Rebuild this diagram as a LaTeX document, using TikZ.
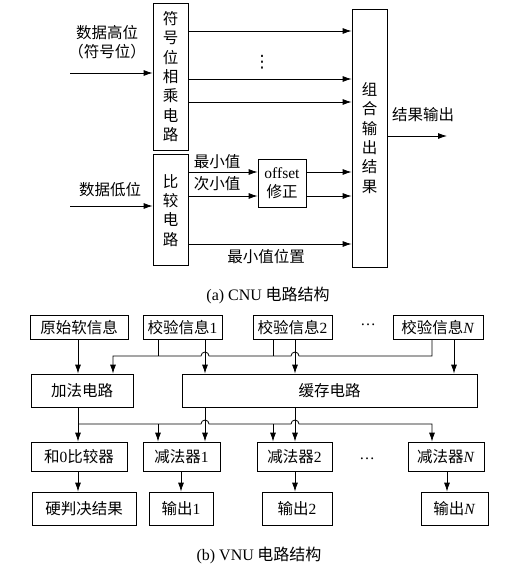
\documentclass[tikz,border=0pt]{standalone}
\usepackage{fontspec}
\setmainfont{Liberation Serif}
\newfontfamily\zh{Noto Sans CJK SC}
\newfontfamily\symf{DejaVu Sans}
\usetikzlibrary{positioning, arrows.meta}
\newcommand\lat[1]{{\rmfamily #1}}
\tikzset{
  blk/.style  = {rectangle, draw, line width=0.8pt, inner sep=0pt,
                 align=center, font=\zh\fontsize{15.5pt}{19.3pt}\selectfont},
  vbox/.style = {blk, minimum width=35pt},
  txt/.style  = {inner sep=0pt, align=center,
                 font=\zh\fontsize{15.5pt}{19.5pt}\selectfont},
  captxt/.style = {inner sep=0pt, font=\zh\fontsize{16pt}{19pt}\selectfont},
  arr/.style  = {-{Latex[length=9pt,width=6pt]}, line width=0.8pt},
  wire/.style = {line width=0.8pt},
}
\begin{document}
\begin{tikzpicture}[x=1pt, y=-1pt]
  \useasboundingbox (0,0) rectangle (529,570);

  % Part (a): CNU
  \node[vbox, minimum height=147pt] (sgn) at (170.5,76.5) {符\\号\\位\\相\\乘\\电\\路};
  \node[vbox, minimum height=111pt, below=4pt of sgn] (cmp) {比\\较\\电\\路};
  \node[blk, minimum width=48pt, minimum height=48pt] (ofs) at (282,183)
       {\lat{offset}\\修正};
  \node[vbox, minimum height=258pt] (comb) at (369.5,138) {组\\合\\输\\出\\结\\果};

  \coordinate (hiIn) at (70,73);
  \coordinate (loIn) at (70,206);
  \coordinate (outA) at (447,136);
  \node[txt] (hiLbl) at (107,42) {数据高位\\（符号位）};
  \node[txt] (loLbl) at (110,190) {数据低位};
  \draw[arr] (hiIn) -- (sgn.west |- hiIn);
  \draw[arr] (loIn) -- (cmp.west |- loIn);

  \foreach \yy in {31,79,102}
    \draw[arr] (sgn.east |- 0,\yy) -- (comb.west |- 0,\yy);
  \node[inner sep=0pt, font=\symf\fontsize{17pt}{17pt}\selectfont] (vdots) at (262,62) {⋮};

  \foreach \yy in {172,196} {
    \draw[arr] (cmp.east |- 0,\yy) -- (ofs.west |- 0,\yy);
    \draw[arr] (ofs.east |- 0,\yy) -- (comb.west |- 0,\yy);
  }
  \node[txt] (minLbl) at (217,162) {最小值};
  \node[txt] (subLbl) at (217,184) {次小值};
  \draw[arr] (cmp.east |- 0,244) -- (comb.west |- 0,244);
  \node[txt] (posLbl) at (266,257) {最小值位置};
  \draw[arr] (comb.east |- outA) -- (outA);
  \node[txt] (outLbl) at (423,115) {结果输出};
  \node[captxt] (capA) at (268,295) {\lat{(a) CNU} 电路结构};

  % Part (b): VNU
  \node[blk, minimum width=98pt, minimum height=24pt] (raw)  at (79,327.5)  {原始软信息};
  \node[blk, minimum width=79pt, minimum height=24pt] (chk1) at (182.5,327.5) {校验信息\lat{1}};
  \node[blk, minimum width=79pt, minimum height=24pt] (chk2) at (292.5,327.5) {校验信息\lat{2}};
  \node[blk, minimum width=90pt, minimum height=24pt] (chkN) at (438,327.5) {校验信息\lat{\textit{N}}};
  \node[txt] (dots1) at (368,325) {\lat{\dots}};

  \node[blk, minimum width=102pt, minimum height=33pt] (add) at (82,390.5)    {加法电路};
  \node[blk, minimum width=295pt, minimum height=33pt] (buf) at (329.5,390.5) {缓存电路};

  \node[blk, minimum width=96pt, minimum height=29pt] (zcmp) at (79,456.5)    {和\lat{0}比较器};
  \node[blk, minimum width=77pt, minimum height=29pt] (sub1) at (181.5,456.5) {减法器\lat{1}};
  \node[blk, minimum width=75pt, minimum height=29pt] (sub2) at (294.5,456.5) {减法器\lat{2}};
  \node[blk, minimum width=76pt, minimum height=29pt] (subN) at (446,456.5)   {减法器\lat{\textit{N}}};
  \node[txt] (dots2) at (367,459) {\lat{\dots}};

  \node[blk, minimum width=104pt, minimum height=33pt] (hard) at (84,508.5)   {硬判决结果};
  \node[blk, minimum width=64pt, minimum height=33pt]  (out1) at (181,508.5)  {输出\lat{1}};
  \node[blk, minimum width=70pt, minimum height=33pt]  (out2) at (297,508.5)  {输出\lat{2}};
  \node[blk, minimum width=67pt, minimum height=33pt]  (outN) at (454.5,508.5) {输出\lat{\textit{N}}};

  % inputs to adder / buffer
  \draw[arr] (raw.south -| 78,0) -- (add.north -| 78,0);
  \draw[arr] (chkN.south -| 432,0) -- (432,356) -- (299,356)
     arc[start angle=0, end angle=180, radius=4pt] -- (209,356)
     arc[start angle=0, end angle=180, radius=4pt] -- (113,356) -- (add.north -| 113,0);
  \draw[wire] (chk1.south -| 158,0) -- (158,356);
  \draw[wire] (chk2.south -| 273,0) -- (273,356);
  \draw[arr] (chk1.south -| 205,0) -- (buf.north -| 205,0);
  \draw[arr] (chk2.south -| 295,0) -- (buf.north -| 295,0);
  \draw[arr] (chkN.south -| 454,0) -- (buf.north -| 454,0);

  % adder / buffer to comparators and subtractors
  \draw[arr] (add.south -| 78,0) -- (zcmp.north -| 78,0);
  \draw[arr] (78,424) -- (201,424)
     arc[start angle=180, end angle=0, radius=4pt] -- (291,424)
     arc[start angle=180, end angle=0, radius=4pt] -- (432,424) -- (subN.north -| 432,0);
  \draw[arr] (158,424) -- (sub1.north -| 158,0);
  \draw[arr] (273,424) -- (sub2.north -| 273,0);
  \draw[arr] (buf.south -| 205,0) -- (sub1.north -| 205,0);
  \draw[arr] (buf.south -| 295,0) -- (sub2.north -| 295,0);

  % outputs
  \draw[arr] (zcmp.south -| 78,0)  -- (hard.north -| 78,0);
  \draw[arr] (sub1.south -| 181,0) -- (out1.north -| 181,0);
  \draw[arr] (sub2.south -| 295,0) -- (out2.north -| 295,0);
  \draw[arr] (subN.south -| 447,0) -- (outN.north -| 447,0);

  \node[captxt] (capB) at (259,555) {\lat{(b) VNU} 电路结构};
\end{tikzpicture}
\end{document}
